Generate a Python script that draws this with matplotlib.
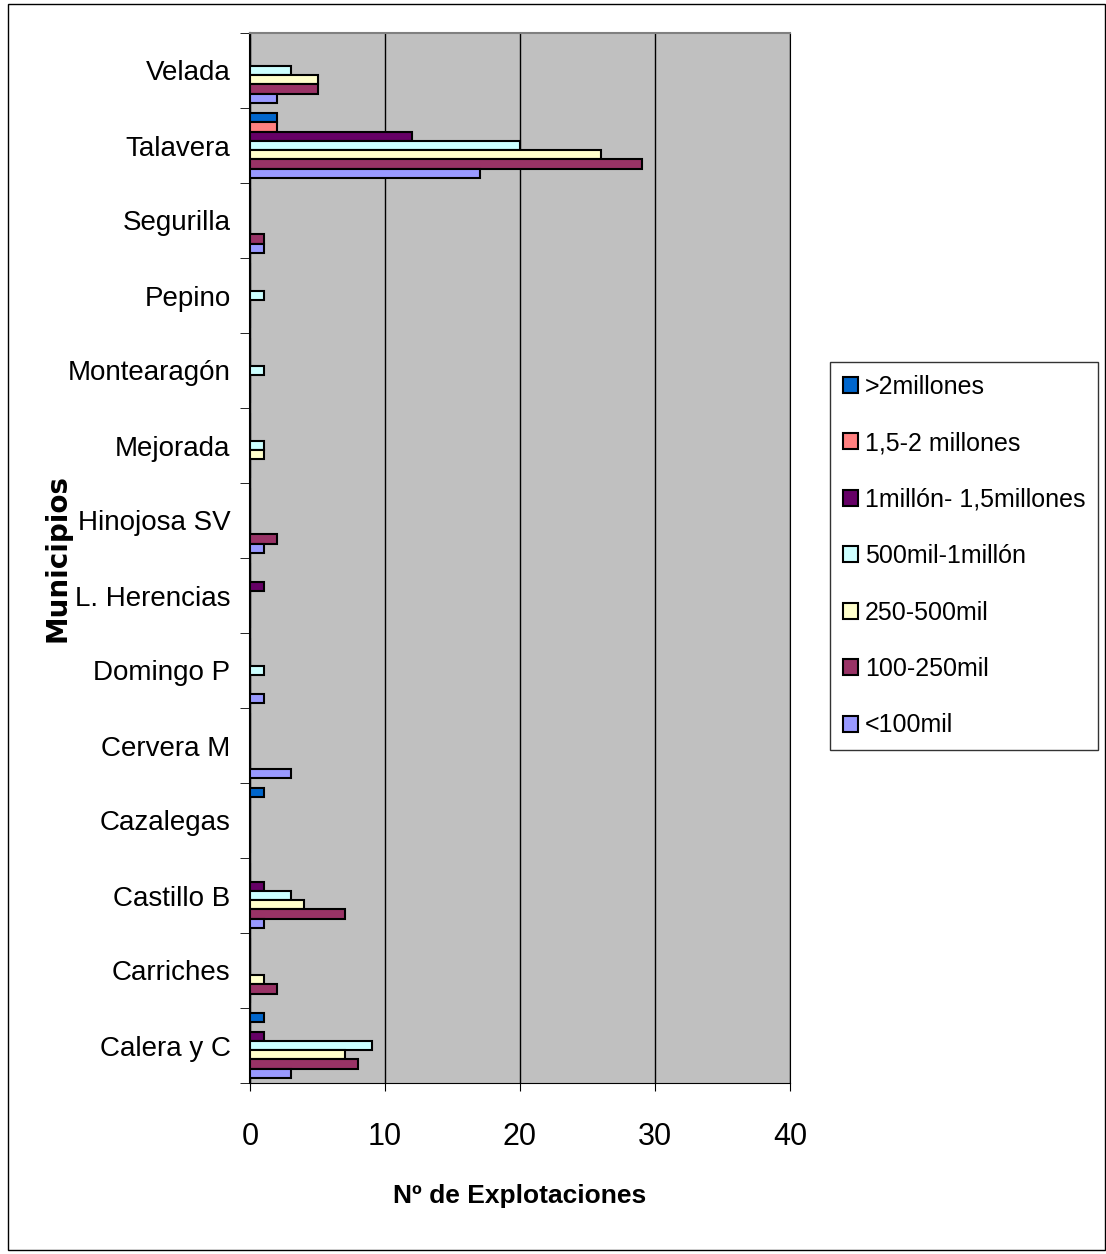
import numpy as np
import matplotlib.pyplot as plt
from matplotlib.patches import Rectangle

# categories, bottom to top
municipios = ['Calera y C', 'Carriches', 'Castillo B', 'Cazalegas', 'Cervera M',
              'Domingo P', 'L. Herencias', 'Hinojosa SV', 'Mejorada', 'Montearagón',
              'Pepino', 'Segurilla', 'Talavera', 'Velada']

series_names = ['>2millones', '1,5-2 millones', '1millón- 1,5millones',
                '500mil-1millón', '250-500mil', '100-250mil', '<100mil']

mas_2m = [1, 0, 0, 1, 0, 0, 0, 0, 0, 0, 0, 0, 2, 0]
m15_2 = [0, 0, 0, 0, 0, 0, 0, 0, 0, 0, 0, 0, 2, 0]
m1_15 = [1, 0, 1, 0, 0, 0, 1, 0, 0, 0, 0, 0, 12, 0]
k500_1m = [9, 0, 3, 0, 0, 1, 0, 0, 1, 1, 1, 0, 20, 3]
k250_500 = [7, 1, 4, 0, 0, 0, 0, 0, 1, 0, 0, 0, 26, 5]
k100_250 = [8, 2, 7, 0, 0, 0, 0, 2, 0, 0, 0, 1, 29, 5]
menos_100k = [3, 0, 1, 0, 3, 1, 0, 1, 0, 0, 0, 1, 17, 2]

colors = ['#0066CC', '#FF8080', '#660066', '#CCFFFF', '#FFFFCC', '#993366', '#9999FF']

data = [mas_2m, m15_2, m1_15, k500_1m, k250_500, k100_250, menos_100k]

font = ['Liberation Sans', 'DejaVu Sans']

fig = plt.figure(figsize=(11.06, 12.54), dpi=100)
fig.patches.append(Rectangle((8 / 1106, 4 / 1254), 1097 / 1106, 1246 / 1254,
                             transform=fig.transFigure, fill=False,
                             edgecolor='black', linewidth=1))

ax = fig.add_axes([250 / 1106, 1 - 1083 / 1254, 540 / 1106, 1050 / 1254])
ax.set_facecolor('#C0C0C0')

n = len(municipios)
y = np.arange(n)
h = 0.124
for i, (name, vals, c) in enumerate(zip(series_names, data, colors)):
    ax.barh(y + (3 - i) * h, vals, height=h, color=c, edgecolor='black',
            linewidth=1.5, label=name, zorder=3)

ax.set_xlim(0, 40)
ax.set_ylim(-0.5, n - 0.5)
ax.set_xticks([0, 10, 20, 30, 40])
ax.xaxis.grid(True, color='black', linewidth=1)
ax.set_axisbelow(True)
ax.tick_params(axis='x', length=6, direction='out', pad=22, labelsize=22)
for t in ax.get_xticklabels():
    t.set_fontfamily(font)

ax.set_yticks(y)
ax.set_yticklabels(municipios, fontsize=20, family=font)
ax.set_yticks(np.arange(n + 1) - 0.5, minor=True)
ax.tick_params(axis='y', which='major', length=0, pad=14)
ax.tick_params(axis='y', which='minor', length=7, direction='out')
for lbl in ax.get_yticklabels():
    lbl.set_verticalalignment('center_baseline')

ax.spines['top'].set_color('#808080')
ax.spines['top'].set_linewidth(1.5)
ax.spines['right'].set_color('black')
ax.spines['left'].set_linewidth(1.5)

ax.set_xlabel('Nº de Explotaciones', fontsize=19, fontweight='bold', family=font)
ax.xaxis.set_label_coords(0.5, -(1184 - 1083) / 1050)
ax.set_ylabel('Municipios', fontsize=20, fontweight='bold')
ax.yaxis.set_label_coords(-(250 - 72) / 540, 0.5)

leg = fig.legend(loc='upper left', bbox_to_anchor=(830 / 1106, 1 - 362 / 1254),
                 frameon=True, fancybox=False, edgecolor='black',
                 prop={'family': font, 'size': 18}, handlelength=0.6,
                 handleheight=0.6, handletextpad=0.3, labelspacing=1.3,
                 borderpad=0.5, borderaxespad=0)
leg.get_frame().set_linewidth(1)

fig.savefig('out.png', dpi=100)
